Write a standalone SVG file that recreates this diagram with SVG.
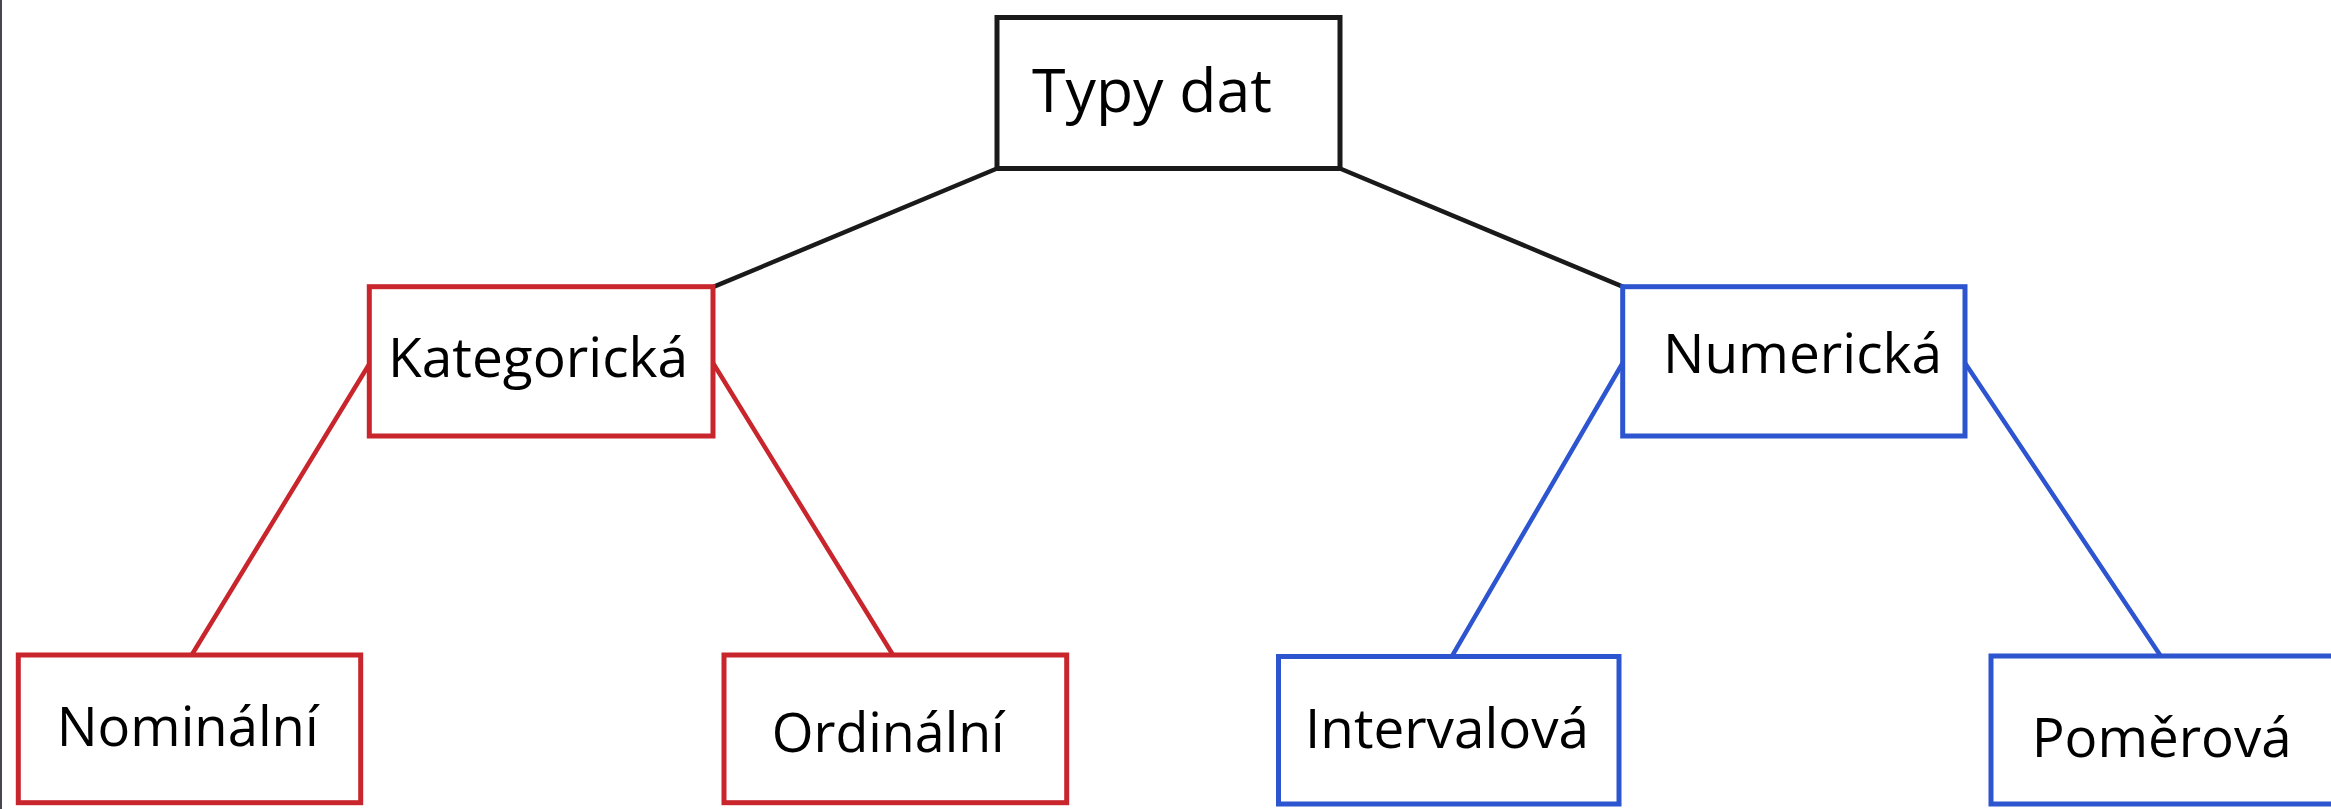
<svg xmlns="http://www.w3.org/2000/svg" width="2331" height="809" viewBox="0 0 2331 809">
  <style>
    .box { fill: #ffffff; stroke-width: 5; }
    .root { stroke: #1a1a1a; }
    .cat { stroke: #C9252D; }
    .num { stroke: #2D55D0; }
    .lbl { font-family: "Open Sans", "Noto Sans", sans-serif; fill: #000000; }
    .big { font-size: 60px; }
    .mid { font-size: 54px; }
    .conn line { stroke-width: 4.5; stroke-linecap: round; }
  </style>
  <rect x="0" y="0" width="2331" height="809" fill="#ffffff"/>
  <rect x="0" y="0" width="2" height="809" fill="#46464c"/>
  <g id="connectors" class="conn">
    <line x1="997" y1="168.5" x2="714" y2="286.7" stroke="#1a1a1a"/>
    <line x1="1340" y1="168.5" x2="1622.7" y2="286.7" stroke="#1a1a1a"/>
    <line x1="369.3" y1="364" x2="191.7" y2="655" stroke="#C9252D"/>
    <line x1="713" y1="363" x2="893" y2="655" stroke="#C9252D"/>
    <line x1="1622.7" y1="363" x2="1451.7" y2="656.7" stroke="#2D55D0"/>
    <line x1="1965" y1="363" x2="2160.7" y2="656" stroke="#2D55D0"/>
  </g>
  <g id="typy-dat">
    <rect class="box root" x="997" y="17.5" width="343" height="151"/>
    <text class="lbl big" x="1032" y="111.7" textLength="240" lengthAdjust="spacingAndGlyphs">Typy dat</text>
  </g>
  <g id="kategoricka">
    <rect class="box cat" x="369.3" y="286.7" width="343.7" height="149.3"/>
    <text class="lbl mid" x="388" y="376.7" textLength="300" lengthAdjust="spacingAndGlyphs">Kategorická</text>
  </g>
  <g id="numericka">
    <rect class="box num" x="1622.7" y="286.7" width="342.3" height="149.3"/>
    <text class="lbl mid" x="1663" y="373.3" textLength="279" lengthAdjust="spacingAndGlyphs">Numerická</text>
  </g>
  <g id="nominalni">
    <rect class="box cat" x="18.3" y="655" width="342.4" height="147.7"/>
    <text class="lbl mid" x="56.7" y="746" textLength="262" lengthAdjust="spacingAndGlyphs">Nominální</text>
  </g>
  <g id="ordinalni">
    <rect class="box cat" x="724" y="655" width="342.7" height="147.7"/>
    <text class="lbl mid" x="771.7" y="751.7" textLength="233" lengthAdjust="spacingAndGlyphs">Ordinální</text>
  </g>
  <g id="intervalova">
    <rect class="box num" x="1278.5" y="656.5" width="340.5" height="147.5"/>
    <text class="lbl mid" x="1305" y="748.3" textLength="284" lengthAdjust="spacingAndGlyphs">Intervalová</text>
  </g>
  <g id="pomerova">
    <rect class="box num" x="1991" y="656" width="360" height="148"/>
    <text class="lbl mid" x="2031.7" y="756.7" textLength="260" lengthAdjust="spacingAndGlyphs">Poměrová</text>
  </g>
</svg>
